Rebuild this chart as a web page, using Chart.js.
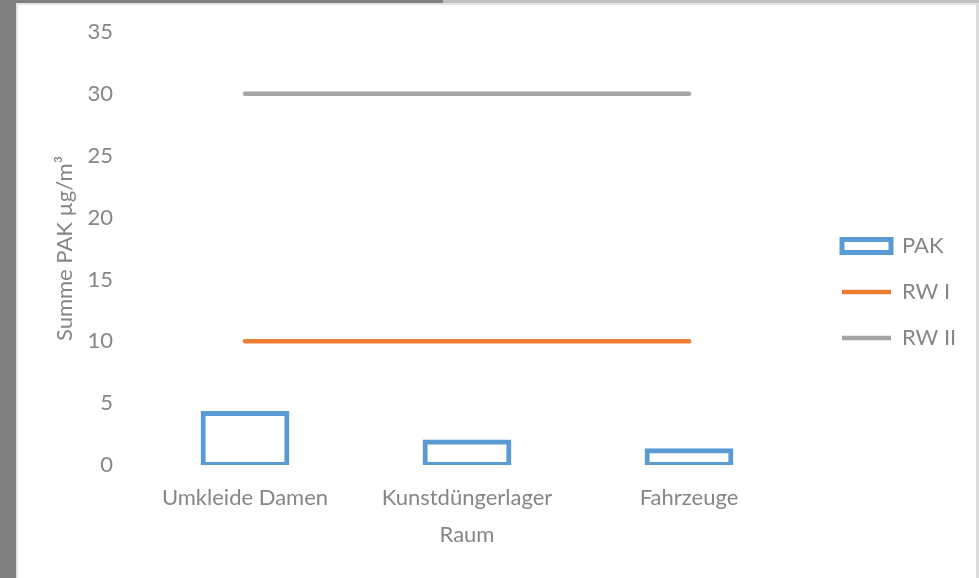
<!DOCTYPE html>
<html lang="de">
<head>
<meta charset="UTF-8">
<title>Summe PAK je Raum</title>
<script src="https://cdn.jsdelivr.net/npm/chart.js@4.4.1/dist/chart.umd.min.js"></script>
<style>
  html, body { margin: 0; padding: 0; background: #fff; overflow: hidden; }
  .strip { position: absolute; }
  #topDark  { left: 0; top: 0; width: 443px; height: 3px; background: #808080; }
  #topLight { left: 443px; top: 0; right: 0; height: 3px; background: #c0c0c0; }
  #leftDark { left: 0; top: 0; width: 16px; height: 578px; background: #808080; }
  #frame {
    position: absolute; left: 16px; top: 3px; width: 958px; height: 575px;
    border-left: 2px solid #e4e4e4; border-top: 2px solid #e4e4e4; border-right: 3px solid #dcdcdc;
  }
  #chart { display: block; background: #fff; }
</style>
</head>
<body>
<div class="strip" id="topDark"></div>
<div class="strip" id="topLight"></div>
<div class="strip" id="leftDark"></div>
<div id="frame"><canvas id="chart" width="958" height="573"></canvas></div>

<script>
const raeume = ['Umkleide Damen', 'Kunstdüngerlager', 'Fahrzeuge'];
const pak = [4.2, 1.9, 1.2];
const rw1 = [10, 10, 10];
const rw2 = [30, 30, 30];
const yMin = 0, yMax = 35, yStep = 5;

const blau = '#5b9bd5';
const orange = '#ed7d31';
const grau = '#a5a5a5';
const textGrau = '#868686';

Chart.defaults.font.family = 'Lato';
Chart.defaults.font.size = 22;
Chart.defaults.color = textGrau;

// legend gets a fixed width so the keys sit where the original has them
const legendWidth = {
  id: 'legendWidth',
  beforeLayout(chart) {
    const lg = chart.legend;
    if (lg && !lg._fixed) {
      const fit = lg.fit;
      lg.fit = function () { fit.call(this); this.width = 158; };
      lg._fixed = true;
    }
  }
};

new Chart(document.getElementById('chart'), {
  type: 'bar',
  data: {
    labels: raeume,
    datasets: [{
      label: 'PAK',
      data: pak,
      backgroundColor: 'rgba(0,0,0,0)',
      borderColor: blau,
      borderWidth: 1,
      inflateAmount: 2,
      borderSkipped: false,
      barPercentage: 0.382,
      categoryPercentage: 1
    }, {
      type: 'line',
      label: 'RW I',
      data: rw1,
      borderColor: orange,
      backgroundColor: orange,
      borderWidth: 4.5,
      borderCapStyle: 'round',
      pointRadius: 0,
      fill: false
    }, {
      type: 'line',
      label: 'RW II',
      data: rw2,
      borderColor: grau,
      backgroundColor: grau,
      borderWidth: 4.5,
      borderCapStyle: 'round',
      pointRadius: 0,
      fill: false
    }]
  },
  options: {
    responsive: false,
    animation: false,
    devicePixelRatio: 1,
    layout: { padding: { top: 27, bottom: 26, left: 0, right: 0 } },
    plugins: {
      tooltip: { enabled: false },
      legend: {
        position: 'right',
        labels: {
          usePointStyle: true,
          pointStyleWidth: 49,
          boxHeight: 13,
          padding: 24,
          color: textGrau,
          generateLabels(chart) {
            const items = Chart.defaults.plugins.legend.labels.generateLabels(chart);
            items[0].pointStyle = 'rect';
            items[0].lineWidth = 5;
            items[0].fillStyle = 'rgba(0,0,0,0)';
            items[1].pointStyle = 'line';
            items[2].pointStyle = 'line';
            return items;
          }
        }
      }
    },
    scales: {
      x: {
        offset: true,
        grid: { display: false, drawTicks: false },
        border: { display: false },
        ticks: { padding: 20, maxRotation: 0, color: textGrau },
        title: { display: true, text: 'Raum', color: textGrau, padding: { top: 0, bottom: 4 } },
        afterFit(s) { s.height = 87; }
      },
      y: {
        min: yMin,
        max: yMax,
        // tick marks are hidden, their length only spaces the labels from the plot
        grid: { display: false, drawTicks: true, tickLength: 17 },
        border: { display: false },
        ticks: { stepSize: yStep, padding: 4, color: textGrau },
        title: { display: true, text: 'Summe PAK µg/m³', color: textGrau, padding: { top: 34, bottom: 0 } },
        afterFit(s) { s.width = 116; }
      },
      gap: {
        type: 'linear',
        position: 'right',
        grid: { display: false, drawTicks: false },
        border: { display: false },
        ticks: { display: false },
        afterFit(s) { s.width = 18; }
      }
    }
  },
  plugins: [legendWidth]
});
</script>
</body>
</html>
